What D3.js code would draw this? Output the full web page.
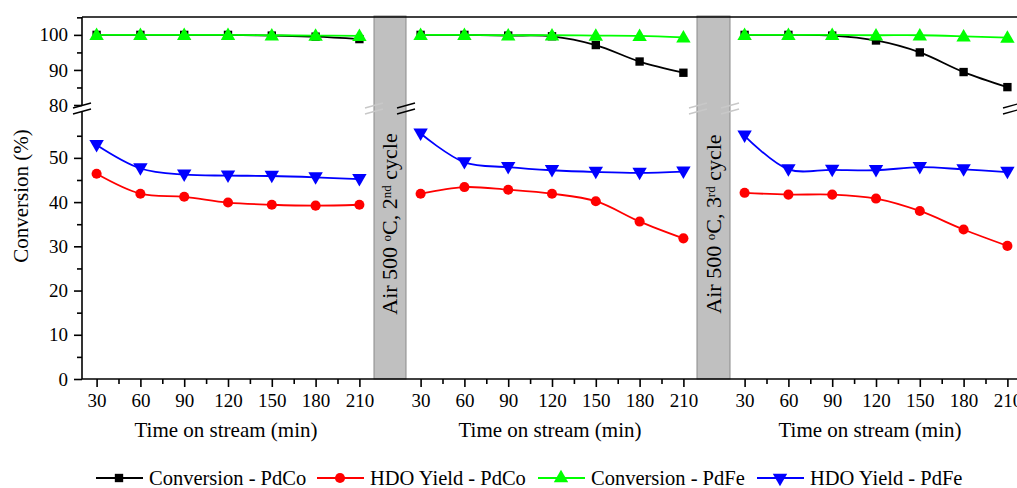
<!DOCTYPE html>
<html>
<head>
<meta charset="utf-8">
<script src="https://cdn.jsdelivr.net/npm/d3@7"></script>
<style>
  body { margin: 0; background: #fff; }
</style>
</head>
<body>
<svg id="chart" width="1017" height="488" style="font-family: 'Liberation Serif', 'DejaVu Serif', serif;"></svg>
<script>
// data, one row per panel (fresh, 2nd cycle, 3rd cycle)
const times = [30, 60, 90, 120, 150, 180, 210];
const conversionPdCo = [
  [100, 100, 100, 100, 99.8, 99.5, 98.8],
  [100, 100, 99.8, 99.6, 97.1, 92.4, 89.2],
  [100, 100, 99.8, 98.4, 95.0, 89.4, 85.1]
];
const yieldPdCo = [
  [46.4, 41.9, 41.2, 39.9, 39.4, 39.2, 39.4],
  [41.9, 43.4, 42.8, 41.9, 40.2, 35.6, 31.8],
  [42.1, 41.7, 41.7, 40.8, 38.0, 33.8, 30.1]
];
const conversionPdFe = [
  [100, 100, 100, 100, 99.9, 99.8, 99.7],
  [100, 100, 99.9, 99.9, 99.8, 99.7, 99.3],
  [100, 100, 100, 99.9, 99.9, 99.6, 99.2]
];
const yieldPdFe = [
  [52.9, 47.6, 46.2, 46.0, 45.9, 45.6, 45.2],
  [55.5, 49.0, 47.9, 47.2, 46.8, 46.6, 46.9],
  [55.0, 47.4, 47.3, 47.2, 47.9, 47.4, 46.8]
];
const cycleLabels = [["Air 500 ", "o", "C, 2", "nd", " cycle"], ["Air 500 ", "o", "C, 3", "rd", " cycle"]];
const xTicks = [30, 60, 90, 120, 150, 180, 210];
const yTicksLow = [0, 10, 20, 30, 40, 50];
const yTicksHigh = [80, 90, 100];

const series = [
  {name: "Conversion - PdCo", data: conversionPdCo, color: "#000000", shape: d3.symbolSquare, size: 70, axis: "high"},
  {name: "HDO Yield - PdCo", data: yieldPdCo, color: "#ff0000", shape: d3.symbolCircle, size: 80, axis: "low"},
  {name: "Conversion - PdFe", data: conversionPdFe, color: "#00ff00", shape: d3.symbolTriangle, size: 90, axis: "high"},
  {name: "HDO Yield - PdFe", data: yieldPdFe, color: "#0000ff", shape: d3.symbolTriangle, size: 90, axis: "low", flip: true}
];

const serif = "'Liberation Serif', 'DejaVu Serif', serif";
let svg = d3.select('#chart');

let plotTop = 17, plotBottom = 379,
    panelLefts = [82, 406, 730],
    panelWidth = 292;

let yHigh = d3.scaleLinear().domain([80, 105.1]).range([105, 17]);
let yLow = d3.scaleLinear().domain([0, 60.6]).range([plotBottom, 111]);

// gray regeneration bars
let bars = [[374, 406], [697, 730]];
bars.forEach((b, i) => {
  svg.append('rect')
     .attr('x', b[0]).attr('y', plotTop - 1)
     .attr('width', b[1] - b[0]).attr('height', plotBottom - plotTop + 1)
     .attr('fill', '#c0c0c0').attr('stroke', '#8a8a8a').attr('stroke-width', 1);
  let t = svg.append('text')
     .attr('transform', `translate(${(b[0] + b[1]) / 2 + 7},224) rotate(-90)`)
     .attr('text-anchor', 'middle')
     .style('font-family', serif)
     .style('font-size', '22px');
  let parts = cycleLabels[i];
  t.append('tspan').text(parts[0]);
  t.append('tspan').text(parts[1]).attr('baseline-shift', '50%').style('font-size', '13px');
  t.append('tspan').text(parts[2]);
  t.append('tspan').text(parts[3]).attr('baseline-shift', '50%').style('font-size', '13px');
  t.append('tspan').text(parts[4]);
});

// frame: top line and bottom axis line
svg.append('line').attr('x1', 82).attr('x2', 1017).attr('y1', plotTop).attr('y2', plotTop)
   .attr('stroke', '#000').attr('stroke-width', 1.6);
svg.append('line').attr('x1', 82).attr('x2', 1017).attr('y1', plotBottom).attr('y2', plotBottom)
   .attr('stroke', '#000').attr('stroke-width', 1.6);

let line = d3.line().curve(d3.curveCatmullRom.alpha(0.5));

panelLefts.forEach((left, p) => {
  let x = d3.scaleLinear().domain([20, 220]).range([left, left + panelWidth]);

  // x axis
  let xAxis = svg.append('g').attr('transform', `translate(0,${plotBottom})`)
    .call(d3.axisBottom(x).tickValues(xTicks).tickSize(8).tickSizeOuter(0).tickPadding(7));
  xAxis.select('.domain').remove();
  xAxis.selectAll('line').attr('stroke-width', 1.6);
  xAxis.attr('font-family', serif).attr('font-size', 19);
  svg.append('g').attr('transform', `translate(0,${plotBottom})`)
    .call(d3.axisBottom(x).tickValues(d3.range(45, 220, 30)).tickSize(5).tickFormat(''))
    .call(g => g.select('.domain').remove())
    .selectAll('line').attr('stroke-width', 1.6);

  svg.append('text')
     .attr('x', left + panelWidth / 2 - (p == 2 ? 6 : 2)).attr('y', 437)
     .attr('text-anchor', 'middle')
     .style('font-family', serif)
     .style('font-size', '21px')
     .text('Time on stream (min)');

  // axis break marks on the panel edges
  [left, left + panelWidth].forEach((ex, k) => {
    let light = (p == 0 && k == 1) || (p == 1 && k == 1) || (p == 2 && k == 0);
    let bx = (p == 2 && k == 1) ? 1012 : ex;
    [0, 6].forEach(dy => {
      svg.append('line')
         .attr('x1', bx - 9).attr('y1', 108 + dy)
         .attr('x2', bx + 9).attr('y2', 103 + dy)
         .attr('stroke', light ? '#c8c8c8' : '#000').attr('stroke-width', 1.4);
    });
  });

  series.forEach(s => {
    let y = s.axis == 'high' ? yHigh : yLow;
    let pts = times.map((t, i) => [x(t), y(s.data[p][i])]);
    svg.append('path')
       .attr('d', line(pts))
       .attr('fill', 'none')
       .attr('stroke', s.color)
       .attr('stroke-width', 1.8);
    svg.append('g').selectAll('path')
       .data(pts).enter().append('path')
       .attr('d', d3.symbol().type(s.shape).size(s.size))
       .attr('transform', d => `translate(${d[0]},${d[1] + (s.shape == d3.symbolTriangle ? (s.flip ? -1 : 1) : 0)})${s.flip ? ' rotate(180)' : ''}`)
       .attr('fill', s.color);
  });
});

// left y axis, two segments
let yAxisLow = svg.append('g').attr('transform', 'translate(82,0)')
  .call(d3.axisLeft(yLow).tickValues(yTicksLow).tickSize(8).tickPadding(6));
let yAxisHigh = svg.append('g').attr('transform', 'translate(82,0)')
  .call(d3.axisLeft(yHigh).tickValues(yTicksHigh).tickSize(8).tickPadding(6));
[yAxisLow, yAxisHigh].forEach(g => {
  g.select('.domain').remove();
  g.selectAll('line').attr('stroke-width', 1.6);
  g.attr('font-family', serif).attr('font-size', 19);
});
svg.append('g').attr('transform', 'translate(82,0)')
  .call(d3.axisLeft(yLow).tickValues(d3.range(5, 60, 10)).tickSize(5).tickFormat(''))
  .call(g => g.select('.domain').remove())
  .selectAll('line').attr('stroke-width', 1.6);
svg.append('g').attr('transform', 'translate(82,0)')
  .call(d3.axisLeft(yHigh).tickValues([85, 95, 105]).tickSize(5).tickFormat(''))
  .call(g => g.select('.domain').remove())
  .selectAll('line').attr('stroke-width', 1.6);
svg.append('line').attr('x1', 82).attr('x2', 82).attr('y1', plotTop).attr('y2', 106)
   .attr('stroke', '#000').attr('stroke-width', 1.6);
svg.append('line').attr('x1', 82).attr('x2', 82).attr('y1', 111).attr('y2', plotBottom)
   .attr('stroke', '#000').attr('stroke-width', 1.6);

svg.append('text')
   .attr('transform', 'translate(28,196) rotate(-90)')
   .attr('text-anchor', 'middle')
   .style('font-family', serif)
   .style('font-size', '21px')
   .text('Conversion (%)');

// legend
let legendX = [96, 317, 538, 757];
series.forEach((s, i) => {
  let lx = legendX[i], ly = 478;
  svg.append('line').attr('x1', lx).attr('x2', lx + 47).attr('y1', ly).attr('y2', ly)
     .attr('stroke', s.color).attr('stroke-width', 1.8);
  svg.append('path')
     .attr('d', d3.symbol().type(s.shape).size(s.size))
     .attr('transform', `translate(${lx + 23},${ly})${s.flip ? ' rotate(180)' : ''}`)
     .attr('fill', s.color);
  svg.append('text').attr('x', lx + 53).attr('y', ly + 7)
     .style('font-family', serif)
     .style('font-size', '20.5px')
     .text(s.name);
});
</script>
</body>
</html>
